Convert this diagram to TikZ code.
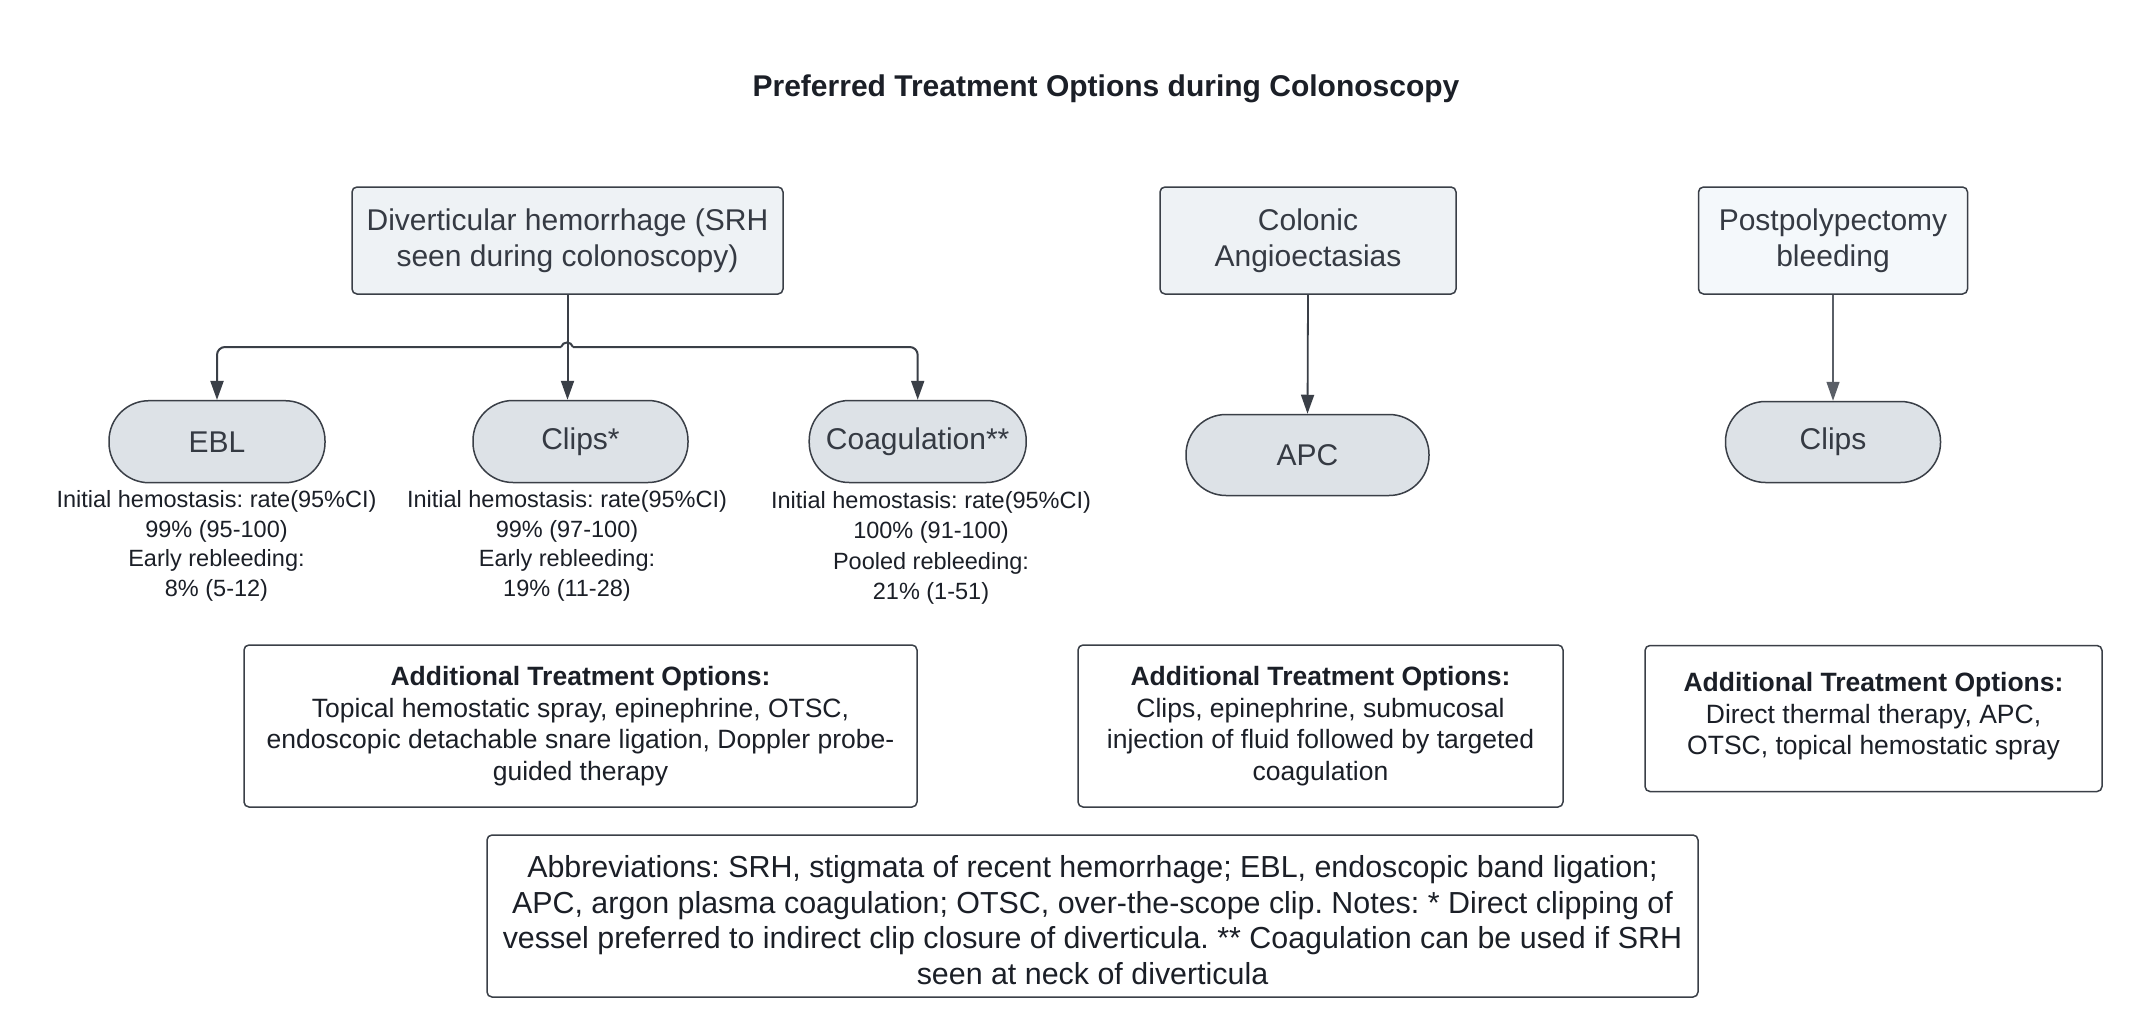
\documentclass[tikz,border=0pt]{standalone}
\usepackage{fontspec}
\setmainfont{Liberation Sans}
\usetikzlibrary{arrows.meta}
\frenchspacing
\definecolor{edgecol}{HTML}{3A3F47}
\definecolor{boxfill}{HTML}{EEF2F5}
\definecolor{boxfilltwo}{HTML}{F4F8FB}
\definecolor{pillfill}{HTML}{DDE2E7}
\definecolor{nodetext}{HTML}{353A43}
\definecolor{darktext}{HTML}{1B1F27}
\definecolor{lightedge}{HTML}{5A5F67}
\begin{document}
\begin{tikzpicture}[x=1pt,y=-1pt,
  mainbox/.style={draw=edgecol, line width=1.5pt, fill=boxfill, rounded corners=5pt,
    minimum height=107pt, inner sep=0pt, align=center, text=nodetext,
    font=\fontsize{30}{36.5}\selectfont},
  pill/.style={draw=edgecol, line width=1.5pt, fill=pillfill, rounded corners=40pt,
    minimum height=82pt, inner sep=0pt, text=nodetext, font=\fontsize{30}{36}\selectfont},
  stat/.style={inner sep=0pt, align=center, text=darktext, font=\fontsize{23.5}{29.5}\selectfont},
  addbox/.style={draw=edgecol, line width=1.5pt, fill=white, rounded corners=5pt,
    inner sep=0pt, align=center, text=darktext, font=\fontsize{26.5}{31.5}\selectfont},
  conn/.style={draw=edgecol, line width=2pt, -{Triangle[width=13pt,length=19pt]}},
  plain/.style={draw=edgecol, line width=2pt}
]
\useasboundingbox[fill=white] (0,0) rectangle (2132,1030);

% title
\node[inner sep=0pt, text=darktext, font=\bfseries\fontsize{30}{36}\selectfont] (title) at (1106,89)
  {Preferred Treatment Options during Colonoscopy};

% top boxes
\node[mainbox, minimum width=431pt] (div) at (567.5,240.5)
  {Diverticular hemorrhage (SRH\\seen during colonoscopy)};
\node[mainbox, minimum width=296pt] (colonic) at (1308,240.5)
  {Colonic\\Angioectasias};
\node[mainbox, minimum width=269pt, fill=boxfilltwo] (postpoly) at (1833,240.5)
  {Postpolypectomy\\bleeding};

% treatments
\node[pill, minimum width=216pt] (ebl) at (217,441.7) {EBL};
\node[pill, minimum width=215pt] (clipsA) at (580.5,441.5) {Clips*};
\node[pill, minimum width=217pt] (coag) at (917.7,441.5) {Coagulation**};
\node[pill, minimum width=243pt, minimum height=81pt] (apc) at (1307.5,455) {APC};
\node[pill, minimum width=215pt, minimum height=81pt] (clipsB) at (1833,442) {Clips};

% statistics
\node[stat] (statebl) at (216.5,546) {Initial hemostasis: rate(95\%CI)\\99\% (95-100)\\Early rebleeding:\\8\% (5-12)};
\node[stat] (statclips) at (567,546) {Initial hemostasis: rate(95\%CI)\\99\% (97-100)\\Early rebleeding:\\19\% (11-28)};
\node[stat, font=\fontsize{23.5}{30.5}\selectfont] (statcoag) at (931,548) {Initial hemostasis: rate(95\%CI)\\100\% (91-100)\\Pooled rebleeding:\\21\% (1-51)};

% connectors
\coordinate (bus) at (567,347);
\coordinate (busL) at (561,347);
\coordinate (busR) at (573,347);
\draw[conn] (div.south) -- (div.south |- clipsA.north);
\draw[conn, rounded corners=8pt] (busL) -| (ebl.north);
\draw[conn, rounded corners=8pt] (busR) -| (coag.north);
\draw[plain] (busL) .. controls +(2,-6) and +(-2,-6) .. (busR);
\draw[conn, line width=1.8pt] (colonic.south) -- (apc.north);
\draw[conn, draw=lightedge, line width=1.3pt] (postpoly.south) -- (clipsB.north);

% additional options
\node[addbox, minimum width=673pt, minimum height=162pt] (add1) at (580.5,726)
  {\textbf{Additional Treatment Options:}\\Topical hemostatic spray, epinephrine, OTSC,\\endoscopic detachable snare ligation, Doppler probe-\\guided therapy};
\node[addbox, minimum width=485pt, minimum height=162pt] (add2) at (1320.5,726)
  {\textbf{Additional Treatment Options:}\\Clips, epinephrine, submucosal\\injection of fluid followed by targeted\\coagulation};
\node[addbox, minimum width=457pt, minimum height=146pt, text depth=0pt] (add3) at (1873.5,718.5)
  {\textbf{Additional Treatment Options:}\\Direct thermal therapy, APC,\\OTSC, topical hemostatic spray\vspace{4pt}};

% notes
\node[addbox, minimum width=1211pt, minimum height=162pt, font=\fontsize{30.4}{35.5}\selectfont] (notes) at (1092.5,916)
  {Abbreviations: SRH, stigmata of recent hemorrhage; EBL, endoscopic band ligation;\\APC, argon plasma coagulation; OTSC, over-the-scope clip. Notes: * Direct clipping of\\vessel preferred to indirect clip closure of diverticula. ** Coagulation can be used if SRH\\seen at neck of diverticula\vspace{-8pt}};
\end{tikzpicture}
\end{document}
